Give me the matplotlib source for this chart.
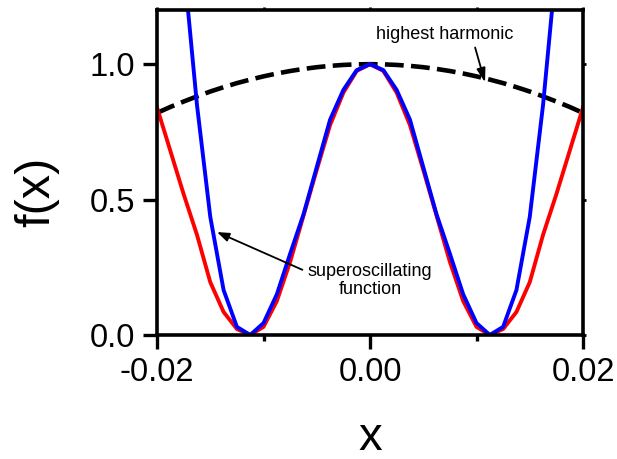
import numpy as np
import matplotlib
matplotlib.use("Agg")
import matplotlib.pyplot as plt

plt.rcParams['font.family'] = ['Liberation Sans', 'DejaVu Sans']

# sample positions (step 0.00125) and values
x_vals = [-0.02, -0.01875, -0.0175, -0.01625, -0.015, -0.01375, -0.0125, -0.01125,
          -0.01, -0.00875, -0.0075, -0.00625, -0.005, -0.00375, -0.0025, -0.00125,
          0.0,
          0.00125, 0.0025, 0.00375, 0.005, 0.00625, 0.0075, 0.00875, 0.01,
          0.01125, 0.0125, 0.01375, 0.015, 0.01625, 0.0175, 0.01875, 0.02]

harmonic = [0.82, 0.842, 0.862, 0.881, 0.899, 0.915, 0.930, 0.943,
            0.955, 0.9655, 0.9747, 0.9824, 0.9888, 0.9937, 0.9972, 0.9993,
            1.0,
            0.9993, 0.9972, 0.9937, 0.9888, 0.9824, 0.9747, 0.9655, 0.955,
            0.943, 0.930, 0.915, 0.899, 0.881, 0.862, 0.842, 0.82]

red_vals = [0.84, 0.68, 0.52, 0.37, 0.195, 0.085, 0.022, 0.0,
            0.03, 0.125, 0.27, 0.44, 0.61, 0.775, 0.895, 0.975,
            1.0,
            0.975, 0.895, 0.775, 0.61, 0.44, 0.27, 0.125, 0.03,
            0.0, 0.022, 0.085, 0.195, 0.37, 0.52, 0.68, 0.84]

superosc = [3.3, 2.2, 1.37, 0.85, 0.436, 0.166, 0.03, 0.0,
            0.044, 0.15, 0.30, 0.445, 0.62, 0.795, 0.905, 0.978,
            1.0,
            0.978, 0.905, 0.795, 0.62, 0.445, 0.30, 0.15, 0.044,
            0.0, 0.03, 0.166, 0.436, 0.85, 1.37, 2.2, 3.3]

fig = plt.figure(figsize=(6.17, 4.59), dpi=100)
ax = fig.add_axes([0.2545, 0.2702, 0.6904, 0.7080])

ax.plot(x_vals, harmonic, color="black", lw=3.3, ls=(0, (4.1, 1.6)))
ax.plot(x_vals, red_vals, color="#ff0000", lw=2.8)
ax.plot(x_vals, superosc, color="#0000ff", lw=2.8)

ax.set_xlim(-0.02, 0.02)
ax.set_ylim(0, 1.2)
ax.set_xticks([-0.02, 0.0, 0.02])
ax.set_xticklabels(["-0.02", "0.00", "0.02"])
ax.set_xticks([-0.01, 0.01], minor=True)
ax.set_yticks([0.0, 0.5, 1.0])
ax.set_yticklabels(["0.0", "0.5", "1.0"])

for s in ax.spines.values():
    s.set_linewidth(2.6)
ax.tick_params(which="major", direction="out", length=10, width=2.4,
               labelsize=23.5, pad=6)
ax.tick_params(which="minor", direction="out", length=4.5, width=2.4)

# small outward ticks on top and right
top = ax.secondary_xaxis("top")
top.set_xticks([-0.02, -0.01, 0.0, 0.01, 0.02])
top.tick_params(length=2.5, width=2, labeltop=False)
top.spines["top"].set_visible(False)
right = ax.secondary_yaxis("right")
right.set_yticks([0.0, 0.5, 1.0])
right.tick_params(length=2.5, width=2, labelright=False)
right.spines["right"].set_visible(False)

ax.set_xlabel("x", fontsize=34)
ax.xaxis.set_label_coords(0.5, -0.318)
ax.xaxis.label.set_verticalalignment("center")
ax.set_ylabel("f(x)", fontsize=35)
ax.yaxis.set_label_coords(-0.2817, 0.44)
ax.yaxis.label.set_verticalalignment("center")

ax.annotate("highest harmonic", xy=(0.0108, 0.933), xytext=(0.00705, 1.108),
            ha="center", va="center", fontsize=13,
            arrowprops=dict(arrowstyle="-|>,head_length=0.7,head_width=0.22",
                            color="black", lw=1.3, shrinkA=1, shrinkB=0,
                            mutation_scale=12, relpos=(0.71, 0.0)))
ax.annotate("superoscillating\nfunction", xy=(-0.01437, 0.38), xytext=(0.0, 0.2),
            ha="center", va="center", fontsize=13, linespacing=1.05,
            arrowprops=dict(arrowstyle="-|>,head_length=0.6,head_width=0.22",
                            color="black", lw=1.3, shrinkA=2, shrinkB=0,
                            mutation_scale=12, relpos=(0.0, 0.75)))

fig.savefig("out.png", dpi=100)
